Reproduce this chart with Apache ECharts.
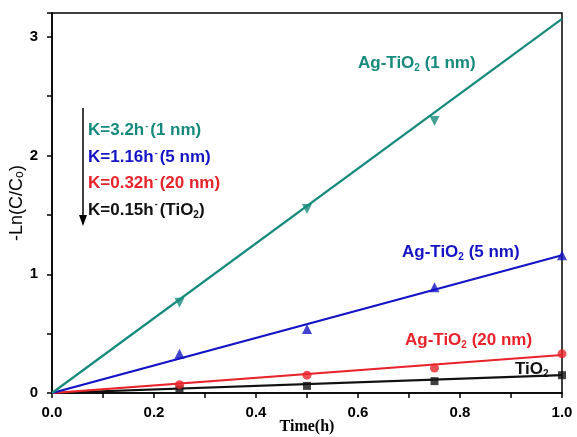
<!DOCTYPE html>
<html><head><meta charset="utf-8">
<script src="https://cdn.jsdelivr.net/npm/echarts@6/dist/echarts.min.js"></script>
<style>html,body{margin:0;padding:0;background:#fff}#c{width:577px;height:437px}</style>
</head><body><div id="c"></div>
<script>
const xPoints = [0.25, 0.5, 0.75, 1.0];
const y1nm = [0.76, 1.55, 2.29];
const y5nm = [0.33, 0.54, 0.89, 1.16];
const y20nm = [0.07, 0.15, 0.21, 0.33];
const yTiO2 = [0.03, 0.06, 0.10, 0.15];
const fitX = [0, 1.0];
const fit1nm = [0, 3.15];
const fit5nm = [0, 1.16];
const fit20nm = [0, 0.32];
const fitTiO2 = [0, 0.15];
const xTicks = [0, 0.2, 0.4, 0.6, 0.8, 1.0];
const yTicks = [0, 1, 2, 3];

const C1 = '#168a7c', C5 = '#1414c4', C20 = '#e8232b', CT = '#111111';
const F = 'Liberation Sans, Arial, sans-serif';
const pairs = (xs, ys) => ys.map((v, i) => [xs[i], v]);

const chart = echarts.init(document.getElementById('c'));
function lineS(data, color) {
  return {type: 'line', data: pairs(fitX, data), symbol: 'none', lineStyle: {color, width: 2.2}, z: 2, silent: true};
}
function scat(data, color, symbol, rot, size) {
  return {type: 'scatter', data: pairs(xPoints, data), symbol, symbolSize: size || 9, symbolRotate: rot || 0,
    itemStyle: {color}, z: 3, clip: true};
}
const rich = {
  b: {fontFamily: F, fontWeight: 'bold', fontSize: 17},
  s: {fontFamily: F, fontWeight: 'bold', fontSize: 9, verticalAlign: 'top', padding: [0,2,8,1]},
  d: {fontFamily: F, fontWeight: 'bold', fontSize: 10, padding: [10,0,0,0]}
};
function txt(x, yc, t, color) {
  const r = {};
  for (const k in rich) r[k] = Object.assign({}, rich[k], {fill: color});
  return {type: 'text', left: x, top: yc - 11, style: {rich: r, text: t, fill: color}, z: 10};
}
chart.setOption({
  animation: false,
  grid: {left: 52, right: 15, top: 13, bottom: 44, containLabel: false, outerBoundsMode: 'none',
    show: true, borderColor: '#000', borderWidth: 1.5},
  xAxis: {type: 'value', min: 0, max: 1, interval: 0.2,
    name: 'Time(h)', nameLocation: 'middle', nameGap: 26, nameMoveOverlap: false,
    nameTextStyle: {fontFamily: 'Liberation Serif, Times New Roman, serif', fontWeight: 'bold', fontSize: 16, color: '#000'},
    axisLine: {lineStyle: {color: '#000', width: 1.5}},
    axisTick: {inside: false, length: 5, lineStyle: {color: '#000', width: 1.5}},
    minorTick: {show: true, splitNumber: 2, length: 5, lineStyle: {color: '#000', width: 1.5}},
    splitLine: {show: false},
    axisLabel: {fontFamily: F, fontWeight: 'bold', fontSize: 15, color: '#000', margin: 12,
      formatter: v => xTicks.includes(+v.toFixed(1)) ? v.toFixed(1) : ''}
  },
  yAxis: {type: 'value', min: 0, max: 3.2, interval: 1,
    name: '-Ln(C/C\u2092)', nameLocation: 'middle', nameGap: 26, nameMoveOverlap: false,
    nameTextStyle: {fontFamily: F, fontSize: 18, color: '#000'},
    axisLine: {lineStyle: {color: '#000', width: 1.5}},
    axisTick: {length: 5, lineStyle: {color: '#000', width: 1.5}},
    minorTick: {show: true, splitNumber: 2, length: 5, lineStyle: {color: '#000', width: 1.5}},
    splitLine: {show: false},
    axisLabel: {fontFamily: F, fontWeight: 'bold', fontSize: 15, color: '#000', margin: 14, showMaxLabel: false,
      formatter: v => yTicks.includes(v) ? String(v) : ''}
  },
  series: [
    lineS(fitTiO2, CT), lineS(fit20nm, C20), lineS(fit5nm, C5), lineS(fit1nm, C1),
    scat(yTiO2, CT, 'rect', 0, 8), scat(y20nm, C20, 'circle', 0, 9), scat(y5nm, C5, 'triangle', 0, 10), scat(y1nm, C1, 'triangle', 180, 10)
  ],
  graphic: [
    {type: 'line', shape: {x1: 83, y1: 108, x2: 83, y2: 218}, style: {stroke: '#000', lineWidth: 1.5}, z: 10},
    {type: 'polygon', shape: {points: [[79, 215], [87, 215], [83, 226]]}, style: {fill: '#000'}, z: 10},
    txt(88, 133, '{b|K=3.2h}{s|-}{b|(1 nm)}', C1),
    txt(88, 160, '{b|K=1.16h}{s|-}{b|(5 nm)}', C5),
    txt(88, 186, '{b|K=0.32h}{s|-}{b|(20 nm)}', C20),
    txt(88, 211, '{b|K=0.15h}{s|-}{b|(TiO}{d|2}{b|)}', CT),
    txt(358, 66, '{b|Ag-TiO}{d|2}{b| (1 nm)}', C1),
    txt(402, 255, '{b|Ag-TiO}{d|2}{b| (5 nm)}', C5),
    txt(405, 343, '{b|Ag-TiO}{d|2}{b| (20 nm)}', C20),
    txt(515, 372, '{b|TiO}{d|2}', CT)
  ]
});
</script></body></html>
